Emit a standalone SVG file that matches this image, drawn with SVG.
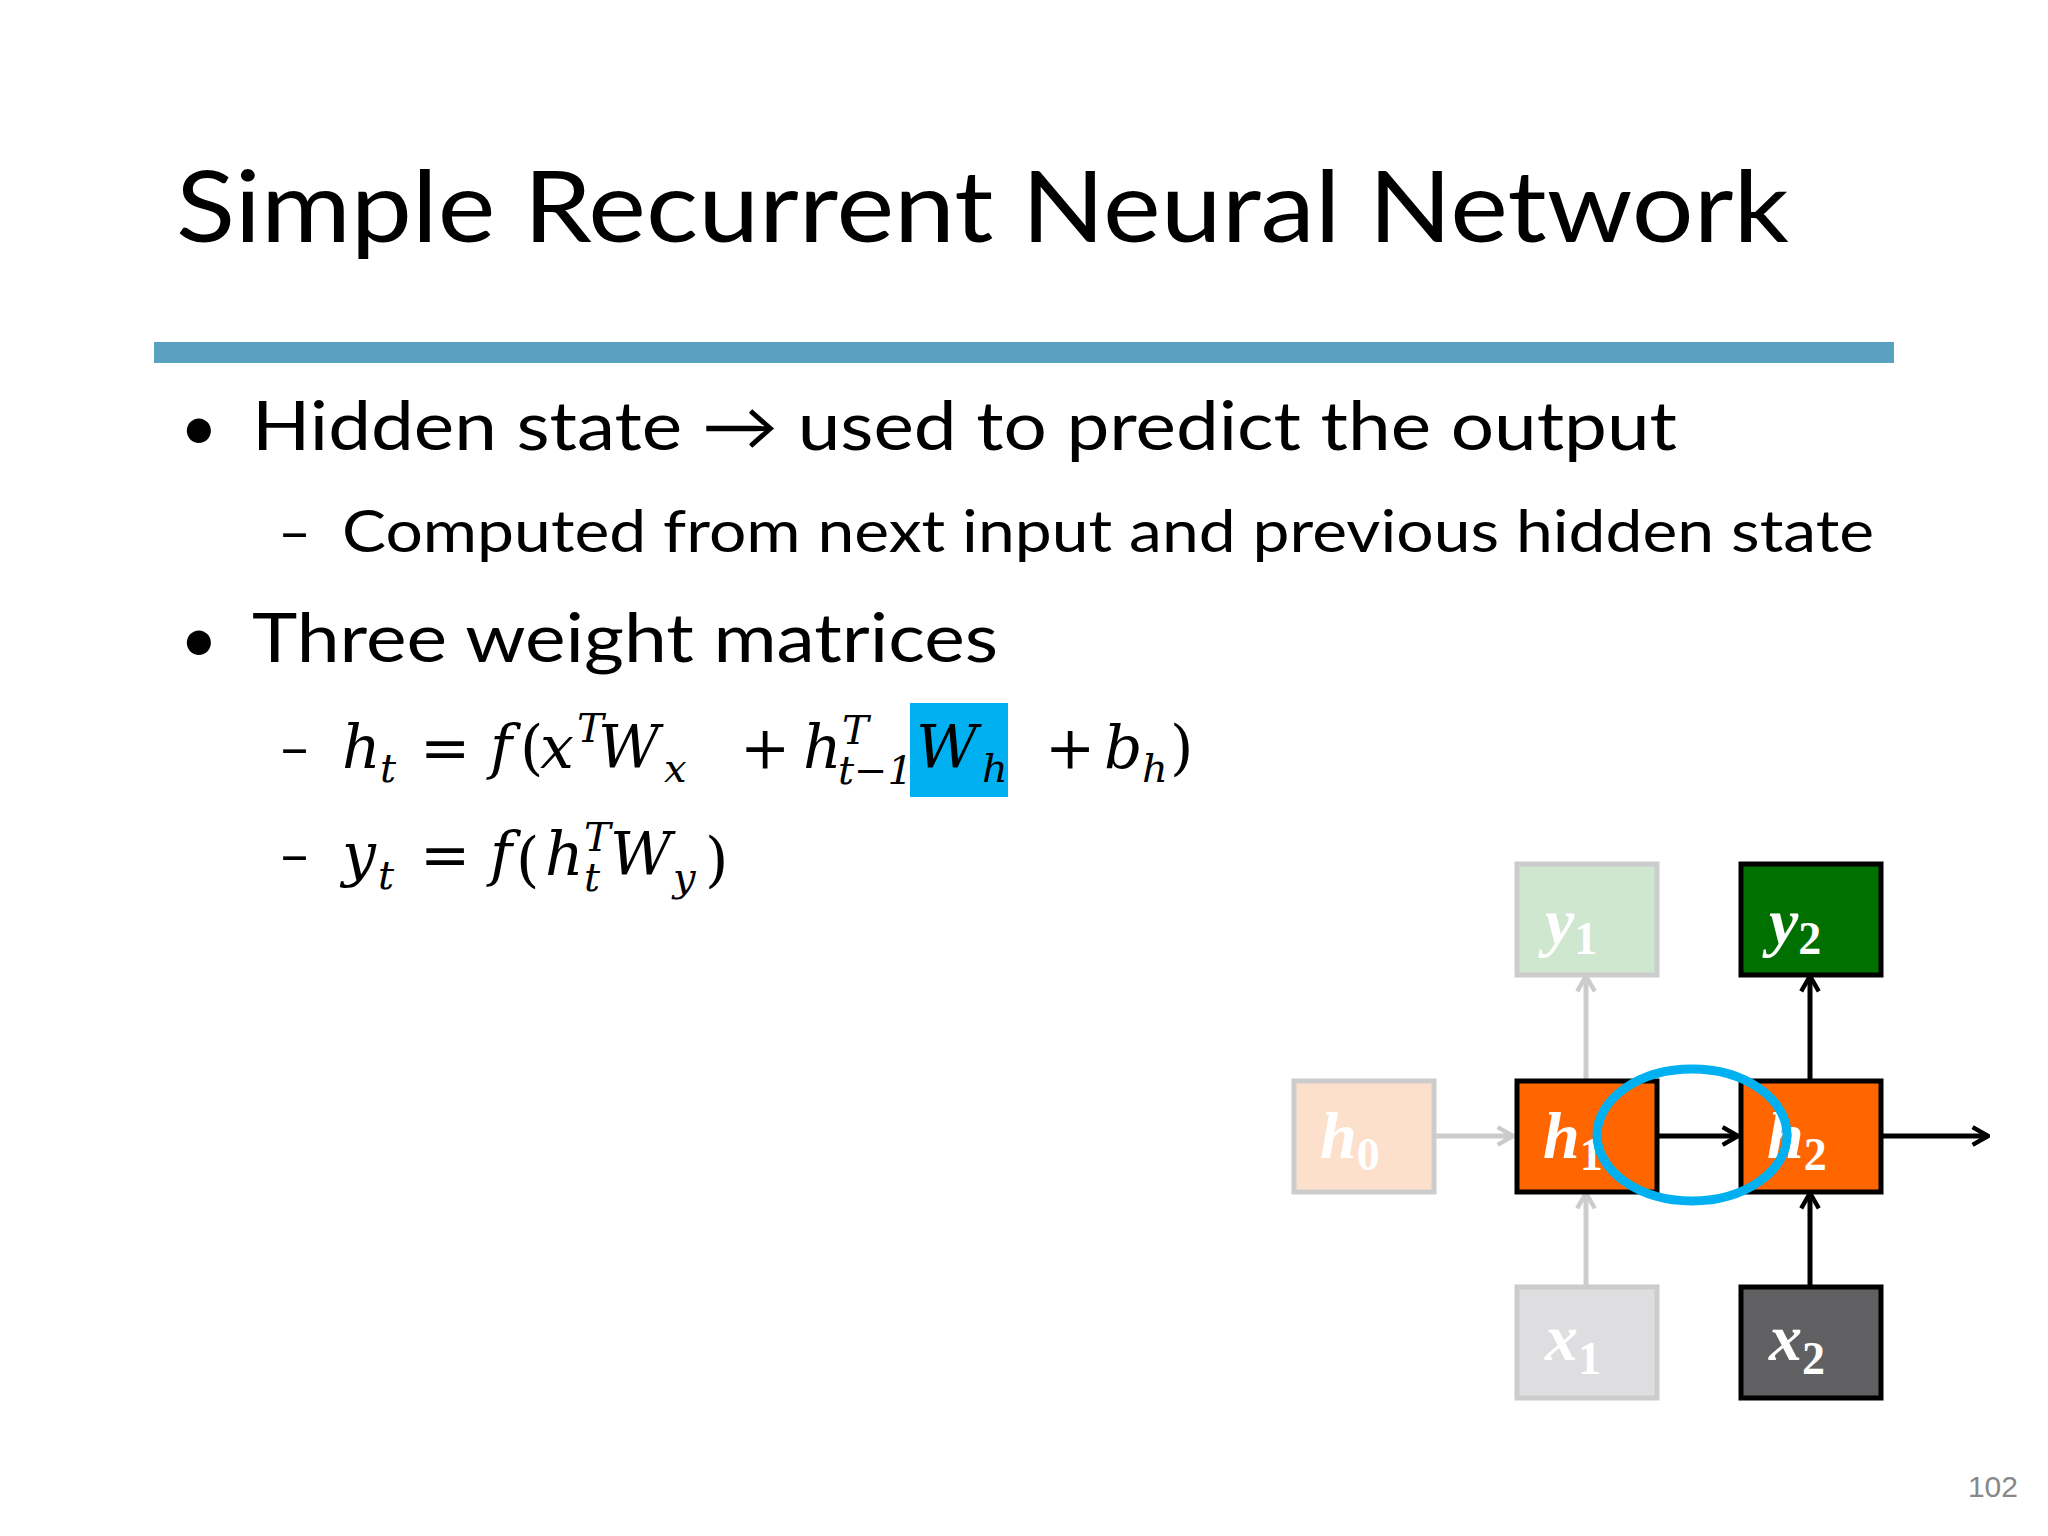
<svg xmlns="http://www.w3.org/2000/svg" width="2048" height="1536" viewBox="0 0 2048 1536">
<style>
.t{font-family:Lato,"Open Sans",sans-serif;fill:#000}
.m{font-family:"DejaVu Serif","Liberation Serif",serif;font-style:italic;font-size:60px}
.s{font-family:"DejaVu Serif","Liberation Serif",serif;font-style:italic;font-size:40px}
.n{font-family:"DejaVu Serif","Liberation Serif",serif;font-size:60px}
.bl{font-family:"Liberation Serif",serif;font-weight:bold;font-style:italic;fill:#fff;font-size:66px}
.sub{font-style:normal;font-size:46px}
</style>
<defs>
<marker id="ak" viewBox="0 0 20 20" refX="18" refY="10" markerWidth="22" markerHeight="22" markerUnits="userSpaceOnUse" orient="auto"><path d="M4,2 L18,10 L4,18" fill="none" stroke="#000" stroke-width="4"/></marker>
<marker id="ag" viewBox="0 0 20 20" refX="18" refY="10" markerWidth="22" markerHeight="22" markerUnits="userSpaceOnUse" orient="auto"><path d="M4,2 L18,10 L4,18" fill="none" stroke="#ccc" stroke-width="4"/></marker>
</defs>
<rect width="2048" height="1536" fill="#fff"/>
<text class="t" x="176" y="242" font-size="98" textLength="1613" lengthAdjust="spacingAndGlyphs">Simple Recurrent Neural Network</text>
<rect x="154" y="342" width="1740" height="21" fill="#5aa0c0"/>
<text class="t" x="180" y="450" font-size="65">•</text>
<text class="t" x="252" y="450" font-size="67" textLength="1425" lengthAdjust="spacingAndGlyphs">Hidden state → used to predict the output</text>
<text class="t" x="278" y="552" font-size="57">–</text>
<text class="t" x="342" y="552" font-size="59" textLength="1532" lengthAdjust="spacingAndGlyphs">Computed from next input and previous hidden state</text>
<text class="t" x="180" y="662" font-size="65">•</text>
<text class="t" x="252" y="662" font-size="67" textLength="746" lengthAdjust="spacingAndGlyphs">Three weight matrices</text>
<rect x="910" y="703" width="98" height="94" fill="#00b0f0"/>
<text class="t" x="278" y="768" font-size="57">–</text>
<g id="eq1">
<text class="m" x="342" y="768">h</text><text class="s" x="380" y="782">t</text>
<text class="n" x="420" y="768">=</text>
<text class="m" x="490" y="768">f</text><text class="n" x="520" y="768">(</text>
<text class="m" x="540" y="768">x</text><text class="s" x="577" y="742">T</text>
<text class="m" x="598" y="768">W</text><text class="s" x="664" y="782">x</text>
<text class="n" x="740" y="768">+</text>
<text class="m" x="803" y="768">h</text><text class="s" x="842" y="744">T</text><text class="s" x="838" y="784">t−1</text>
<text class="m" x="916" y="768">W</text><text class="s" x="982" y="782">h</text>
<text class="n" x="1045" y="768">+</text>
<text class="m" x="1104" y="768">b</text><text class="s" x="1142" y="782">h</text>
<text class="n" x="1170" y="768">)</text>
</g>
<text class="t" x="278" y="875" font-size="57">–</text>
<g id="eq2">
<text class="m" x="342" y="875">y</text><text class="s" x="378" y="889">t</text>
<text class="n" x="420" y="875">=</text>
<text class="m" x="490" y="875">f</text><text class="n" x="516" y="880" font-size="76">(</text>
<text class="m" x="545" y="875">h</text><text class="s" x="584" y="851">T</text><text class="s" x="584" y="891">t</text>
<text class="m" x="610" y="875">W</text><text class="s" x="673" y="891">y</text>
<text class="n" x="705" y="880" font-size="76">)</text>
</g>
<g id="connectors" fill="none" stroke-width="5">
<line x1="1433" y1="1136" x2="1513" y2="1136" stroke="#ccc" marker-end="url(#ag)"/>
<line x1="1586" y1="1080" x2="1586" y2="976" stroke="#ccc" marker-end="url(#ag)"/>
<line x1="1586" y1="1287" x2="1586" y2="1193" stroke="#ccc" marker-end="url(#ag)"/>
<line x1="1656" y1="1136" x2="1738" y2="1136" stroke="#000" marker-end="url(#ak)"/>
<line x1="1810" y1="1080" x2="1810" y2="976" stroke="#000" marker-end="url(#ak)"/>
<line x1="1810" y1="1287" x2="1810" y2="1193" stroke="#000" marker-end="url(#ak)"/>
<line x1="1881" y1="1136" x2="1988" y2="1136" stroke="#000" marker-end="url(#ak)"/>
</g>
<g id="y1"><rect x="1517" y="864" width="140" height="111" fill="#cfe6cf" stroke="#ccc" stroke-width="5"/><text class="bl" x="1545" y="944">y<tspan class="sub" dy="10">1</tspan></text></g>
<g id="y2"><rect x="1741" y="864" width="140" height="111" fill="#007000" stroke="#000" stroke-width="5"/><text class="bl" x="1769" y="944">y<tspan class="sub" dy="10">2</tspan></text></g>
<g id="h0"><rect x="1294" y="1081" width="140" height="111" fill="#fde0cc" stroke="#ccc" stroke-width="5"/><text class="bl" x="1320" y="1158">h<tspan class="sub" dy="12">0</tspan></text></g>
<g id="h1"><rect x="1517" y="1081" width="140" height="111" fill="#ff6600" stroke="#000" stroke-width="5"/><text class="bl" x="1543" y="1158">h<tspan class="sub" dy="12">1</tspan></text></g>
<g id="h2"><rect x="1741" y="1081" width="140" height="111" fill="#ff6600" stroke="#000" stroke-width="5"/><text class="bl" x="1767" y="1158">h<tspan class="sub" dy="12">2</tspan></text></g>
<g id="x1"><rect x="1517" y="1287" width="140" height="111" fill="#dedee0" stroke="#ccc" stroke-width="5"/><text class="bl" x="1545" y="1360">x<tspan class="sub" dy="14">1</tspan></text></g>
<g id="x2"><rect x="1741" y="1287" width="140" height="111" fill="#606062" stroke="#000" stroke-width="5"/><text class="bl" x="1769" y="1360">x<tspan class="sub" dy="14">2</tspan></text></g>
<ellipse cx="1692" cy="1135" rx="95" ry="66" fill="none" stroke="#00b0f0" stroke-width="9"/>
<text x="2018" y="1497" font-family="Liberation Sans,sans-serif" font-size="30" fill="#888" text-anchor="end">102</text>
</svg>
